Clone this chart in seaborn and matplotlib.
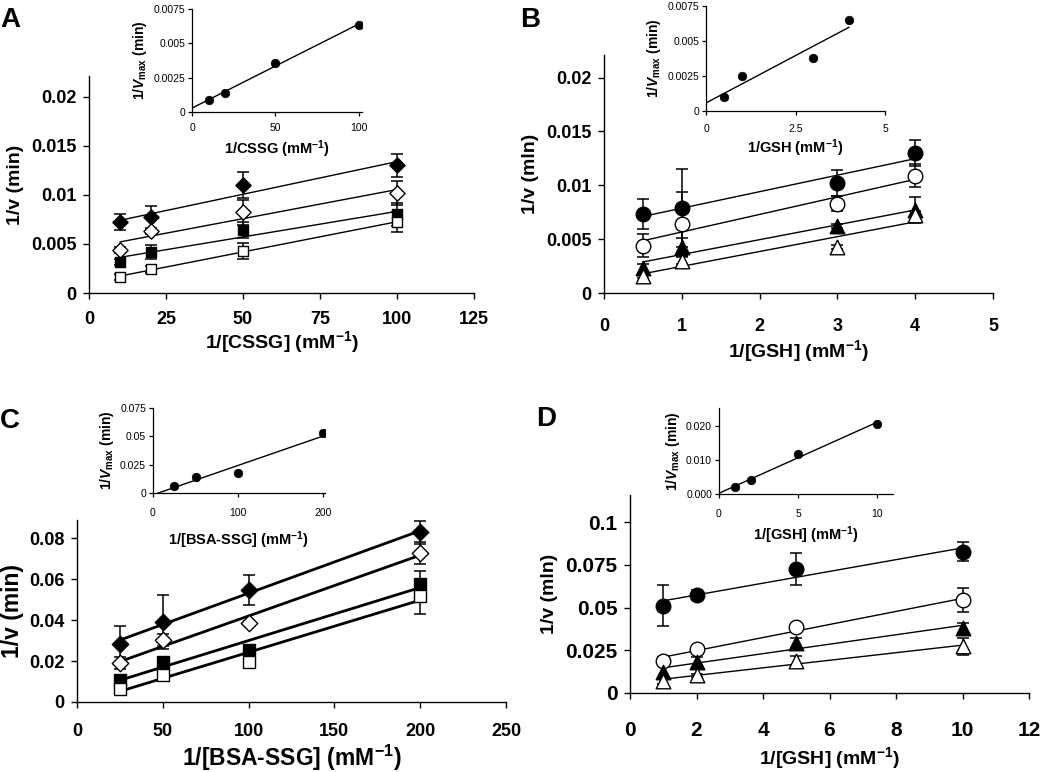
import numpy as np
import matplotlib
matplotlib.use('Agg')
import matplotlib.pyplot as plt
import seaborn as sns
from matplotlib.ticker import FuncFormatter

sns.set_style('ticks')
plt.rcParams['font.family'] = ['Liberation Sans', 'DejaVu Sans']
plt.rcParams['mathtext.fontset'] = 'custom'
plt.rcParams['mathtext.rm'] = 'Liberation Sans'
plt.rcParams['mathtext.it'] = 'Liberation Sans:italic:bold'
plt.rcParams['mathtext.bf'] = 'Liberation Sans:bold'
plt.rcParams['text.color'] = 'black'
plt.rcParams['axes.labelcolor'] = 'black'
plt.rcParams['xtick.color'] = 'black'
plt.rcParams['ytick.color'] = 'black'

# ---- Panel A: 1/[CSSG] ----
a_x = [10, 20, 50, 100]
a_y = [
    [0.0072, 0.0077, 0.0110, 0.0130],
    [0.0044, 0.0063, 0.0082, 0.0102],
    [0.0032, 0.0042, 0.0064, 0.0080],
    [0.0016, 0.0024, 0.0043, 0.0072],
]
a_err = [
    [0.0008, 0.0012, 0.0013, 0.0012],
    [0.0003, 0.0003, 0.0013, 0.0012],
    [0.0003, 0.0007, 0.0008, 0.0012],
    [0.0003, 0.0004, 0.0008, 0.0010],
]
a_in_x = [10, 20, 50, 100]
a_in_y = [0.00085, 0.0014, 0.0036, 0.0063]

# ---- Panel B: 1/[GSH] ----
b_x = [0.5, 1, 3, 4]
b_y = [
    [0.0073, 0.0079, 0.0102, 0.0130],
    [0.0044, 0.0064, 0.0083, 0.0109],
    [0.0023, 0.0043, 0.0062, 0.0077],
    [0.0016, 0.0030, 0.0043, 0.0072],
]
b_err = [
    [0.0014, 0.0036, 0.0012, 0.0012],
    [0.0011, 0.0030, 0.0007, 0.0011],
    [0.0004, 0.0008, 0.0002, 0.0012],
    [0.0002, 0.0003, 0.0002, 0.0004],
]
b_in_x = [0.5, 1, 3, 4]
b_in_y = [0.0010, 0.0025, 0.0038, 0.0065]

# ---- Panel C: 1/[BSA-SSG] ----
c_x = [25, 50, 100, 200]
c_y = [
    [0.0285, 0.0389, 0.0545, 0.0828],
    [0.0190, 0.0304, 0.0384, 0.0727],
    [0.0109, 0.0197, 0.0255, 0.0574],
    [0.0065, 0.0132, 0.0195, 0.0515],
]
c_err = [
    [0.0088, 0.0132, 0.0073, 0.0055],
    [0.0030, 0.0030, 0.0010, 0.0052],
    [0.0010, 0.0020, 0.0010, 0.0063],
    [0.0010, 0.0010, 0.0010, 0.0085],
]
c_in_x = [25, 50, 100, 200]
c_in_y = [0.0059, 0.0144, 0.0180, 0.0526]

# ---- Panel D: 1/[GSH] ----
d_x = [1, 2, 5, 10]
d_y = [
    [0.0511, 0.0575, 0.0725, 0.0827],
    [0.0189, 0.0257, 0.0386, 0.0542],
    [0.0123, 0.0181, 0.0292, 0.0380],
    [0.0072, 0.0103, 0.0185, 0.0273],
]
d_err = [
    [0.0120, 0.0030, 0.0095, 0.0056],
    [0.0020, 0.0015, 0.0020, 0.0070],
    [0.0040, 0.0030, 0.0030, 0.0030],
    [0.0020, 0.0010, 0.0030, 0.0050],
]
d_in_x = [1, 2, 5, 10]
d_in_y = [0.0020, 0.0041, 0.0117, 0.0207]

sup = r'$^{\mathbf{-1}}$'
vmax = r'1/$\mathit{V}_{\mathbf{max}}$ (min)'

fig = plt.figure(figsize=(10.5, 7.72), dpi=100)
W, H = 1050, 772


def add_ax(l, r, t, b):
    return fig.add_axes([l / W, 1 - b / H, (r - l) / W, (b - t) / H])


def style(ax, lw=1.0):
    sns.despine(ax=ax)
    for s in ['left', 'bottom']:
        ax.spines[s].set_linewidth(lw)
        ax.spines[s].set_color('black')
    ax.tick_params(direction='out', length=4, width=lw, colors='black')


def main_panel(ax, x, ys, errs, markers, ms, lw, xlim, ylim, xt, yt,
               xlabel, ylabel, fs_tick, fs_lab, xpad, ypad, xtpad):
    for i, (y, e) in enumerate(zip(ys, errs)):
        m, filled = markers[i]
        ax.errorbar(x, y, yerr=e, fmt='none', ecolor='black', elinewidth=1.1,
                    capsize=4, capthick=1.1, zorder=2)
        k, b = np.polyfit(x, y, 1)
        xs = np.array([x[0], x[-1]])
        sns.lineplot(x=xs, y=k * xs + b, ax=ax, color='black', lw=lw, zorder=3)
        sns.scatterplot(x=x, y=y, ax=ax, marker=m, s=ms,
                        color='black' if filled else 'white',
                        edgecolor='black', linewidth=1.0, zorder=4)
    ax.set_xlim(*xlim)
    ax.set_ylim(*ylim)
    ax.set_xticks(xt)
    ax.set_yticks(yt)
    ax.xaxis.set_major_formatter(FuncFormatter(lambda v, p: '{:g}'.format(v)))
    ax.yaxis.set_major_formatter(FuncFormatter(lambda v, p: '{:g}'.format(round(v, 4))))
    for lab in ax.get_xticklabels() + ax.get_yticklabels():
        lab.set_fontsize(fs_tick)
        lab.set_fontweight('bold')
    ax.set_xlabel(xlabel, fontsize=fs_lab, fontweight='bold', labelpad=xpad)
    ax.set_ylabel(ylabel, fontsize=fs_lab, fontweight='bold', labelpad=ypad)
    style(ax)
    ax.tick_params(axis='x', pad=xtpad)
    ax.tick_params(axis='y', pad=5)


def inset(ax, x, y, xlim, ylim, xt, yt, xlabel, yfmt, xtpad=3, xlpad=4):
    k, b = np.polyfit(x, y, 1)
    xs = np.array([0, x[-1]])
    sns.lineplot(x=xs, y=k * xs + b, ax=ax, color='black', lw=1.0)
    sns.scatterplot(x=x, y=y, ax=ax, marker='o', s=38, color='black',
                    edgecolor='black', zorder=4)
    ax.set_xlim(*xlim)
    ax.set_ylim(*ylim)
    ax.set_xticks(xt)
    ax.set_yticks(yt)
    ax.set_xticklabels(['{:g}'.format(v) for v in xt], fontsize=7.5)
    ax.set_yticklabels([yfmt.format(v) if v != 0 or '3f' in yfmt else '0' for v in yt],
                       fontsize=7.5)
    ax.set_xlabel(xlabel, fontsize=10.5, fontweight='bold', labelpad=xlpad)
    ax.set_ylabel(vmax, fontsize=10, fontweight='bold', labelpad=3)
    ax.patch.set_alpha(0)
    style(ax, lw=0.9)
    ax.tick_params(length=3, pad=2)
    ax.tick_params(axis='x', pad=xtpad)


mk_ac = [('D', True), ('D', False), ('s', True), ('s', False)]
mk_bd = [('o', True), ('o', False), ('^', True), ('^', False)]

# A
axA = add_ax(89, 474, 76, 293)
main_panel(axA, a_x, a_y, a_err, mk_ac, 60, 1.0, (0, 125), (0, 0.0221),
           [0, 25, 50, 75, 100, 125], [0, 0.005, 0.01, 0.015, 0.02],
           '1/[CSSG] (mM' + sup + ')', '1/v (min)', 13, 14, 1, 5, 9)
axAi = add_ax(192, 362, 9, 112)
inset(axAi, a_in_x, a_in_y, (0, 102), (0, 0.0075), [0, 50, 100],
      [0, 0.0025, 0.005, 0.0075], '1/CSSG (mM' + sup + ')', '{:g}', 5, 4)

# B
axB = add_ax(604, 993, 55, 293)
main_panel(axB, b_x, b_y, b_err, mk_bd, 110, 1.0, (0, 5), (0, 0.0221),
           [0, 1, 2, 3, 4, 5], [0, 0.005, 0.01, 0.015, 0.02],
           '1/[GSH] (mM' + sup + ')', '1/v (mln)', 13, 14, 2, 5, 14)
axBi = add_ax(706, 885, 6, 111)
inset(axBi, b_in_x, b_in_y, (0, 5), (0, 0.0075), [0, 2.5, 5],
      [0, 0.0025, 0.005, 0.0075], '1/GSH (mM' + sup + ')', '{:g}', 6, 3)

# C
axC = add_ax(77, 506, 520, 702)
main_panel(axC, c_x, c_y, c_err, mk_ac, 70, 2.0, (0, 250), (0, 0.0888),
           [0, 50, 100, 150, 200, 250], [0, 0.02, 0.04, 0.06, 0.08],
           '1/[BSA-SSG] (mM' + sup + ')', '1/v (min)', 13, 16.5, 2, 4, 11)
axCi = add_ax(153, 325, 408, 493)
inset(axCi, c_in_x, c_in_y, (0, 202), (0, 0.075), [0, 100, 200],
      [0, 0.025, 0.05, 0.075], '1/[BSA-SSG] (mM' + sup + ')', '{:g}', 8, 8)

# D
axD = add_ax(630, 1029, 495, 693)
main_panel(axD, d_x, d_y, d_err, mk_bd, 110, 1.0, (0, 12), (0, 0.1158),
           [0, 2, 4, 6, 8, 10, 12], [0, 0.025, 0.05, 0.075, 0.1],
           '1/[GSH] (mM' + sup + ')', '1/v (mln)', 15, 14, 4, 5, 16)
axDi = add_ax(719, 893, 408, 494)
inset(axDi, d_in_x, d_in_y, (0, 11), (0, 0.0253), [0, 5, 10],
      [0, 0.01, 0.02], '1/[GSH] (mM' + sup + ')', '{:.3f}', 8, 4)

for lbl, (px, py) in zip('ABCD', [(0, 7), (520, 7), (0, 408), (536, 406)]):
    fig.text(px / W, 1 - py / H, lbl, fontsize=20, fontweight='bold',
             va='top', ha='left')

fig.savefig('out.png', dpi=100)
